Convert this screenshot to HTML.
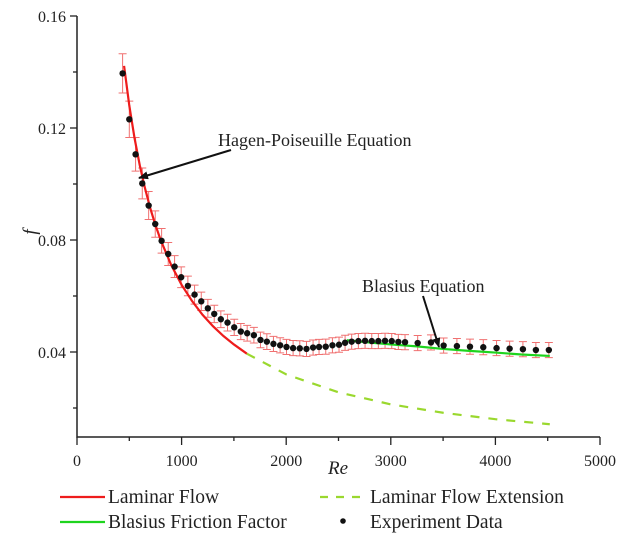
<!DOCTYPE html>
<html><head><meta charset="utf-8"><style>
body{margin:0;background:#fff}
svg text{font-family:"Liberation Serif",serif;fill:#222}
</style></head><body>
<svg id="c" width="624" height="544" xmlns="http://www.w3.org/2000/svg"></svg>
<script>
const reVals=[436,500,560,624,685,748,809,872,933,996,1060,1124,1188,1251,1312,1375,1439,1503,1566,1627,1691,1754,1815,1878,1942,2003,2066,2130,2194,2257,2314,2378,2442,2505,2563,2626,2690,2754,2818,2881,2945,3009,3072,3136,3257,3384,3505,3632,3757,3884,4011,4136,4263,4387,4511];
const fVals=[0.1395,0.1231,0.1106,0.1002,0.0923,0.0857,0.0797,0.0750,0.0705,0.0667,0.0636,0.0605,0.0581,0.0556,0.0536,0.0517,0.0505,0.0488,0.0473,0.0467,0.0460,0.0443,0.0437,0.0429,0.0424,0.0418,0.0414,0.0413,0.0411,0.0416,0.0418,0.0419,0.0424,0.0426,0.0433,0.0437,0.0439,0.0440,0.0439,0.0439,0.0440,0.0439,0.0436,0.0435,0.0432,0.0434,0.0423,0.0421,0.0419,0.0417,0.0414,0.0412,0.0410,0.0407,0.0407];
const errVals=[0.0070,0.0065,0.0060,0.0055,0.0050,0.0047,0.0044,0.0041,0.0039,0.0037,0.0035,0.0034,0.0033,0.0032,0.0031,0.0030,0.0030,0.0029,0.0029,0.0028,0.0028,0.0028,0.0028,0.0027,0.0027,0.0027,0.0027,0.0027,0.0027,0.0027,0.0027,0.0027,0.0027,0.0027,0.0027,0.0027,0.0027,0.0027,0.0027,0.0027,0.0027,0.0027,0.0027,0.0027,0.0027,0.0027,0.0027,0.0027,0.0027,0.0027,0.0027,0.0027,0.0027,0.0027,0.0027];
const lamRe=[450,500,550,600,650,700,750,800,900,1000,1100,1200,1300,1400,1500,1624];
const lamF=[0.1422,0.128,0.1164,0.1067,0.0985,0.0914,0.0853,0.08,0.0711,0.064,0.0582,0.0533,0.0492,0.0457,0.0427,0.0394];
const extRe=[1624,2000,2500,3000,3500,4000,4520];
const extF=[0.0394,0.032,0.0256,0.0213,0.0183,0.016,0.0142];
const blaRe=[2580,2800,3000,3250,3500,3750,4000,4250,4520];
const blaF=[0.0442,0.0434,0.0427,0.0420,0.0411,0.0404,0.0398,0.0391,0.0386];
const xTicks=[0,1000,2000,3000,4000,5000];
const yTicks=[0.04,0.08,0.12,0.16];

const X=v=>77+v*0.1046;
const Y=v=>352-(v-0.04)*2800;
const svg=document.getElementById('c');
const NS='http://www.w3.org/2000/svg';
function mk(tag,attrs,parent){const e=document.createElementNS(NS,tag);for(const k in attrs)e.setAttribute(k,attrs[k]);(parent||svg).appendChild(e);return e;}

let ax=mk('path',{d:`M77,16 V437 H600`,stroke:'#222','stroke-width':1.5,fill:'none'});


xTicks.forEach((t,i)=>{
  mk('line',{x1:X(t),x2:X(t),y1:437,y2:445,stroke:'#222','stroke-width':1.3});
  if(i<xTicks.length-1)mk('line',{x1:X(t+500),x2:X(t+500),y1:437,y2:441,stroke:'#222','stroke-width':1.3});
  const tx=mk('text',{x:X(t),y:466,'text-anchor':'middle','font-size':16});
  tx.textContent=t;
  
  
});
[0.02].concat(yTicks).forEach(t=>{
  const major=yTicks.includes(t);
  mk('line',{x1:major?70:73,x2:77,y1:Y(t),y2:Y(t),stroke:'#222','stroke-width':1.3});
});
[0.06,0.10,0.14].forEach(t=>mk('line',{x1:73,x2:77,y1:Y(t),y2:Y(t),stroke:'#222','stroke-width':1.3}));
yTicks.forEach(t=>{
  const tx=mk('text',{x:66,y:Y(t)+6,'text-anchor':'end','font-size':16});
  tx.textContent=t.toFixed(2);
  
  
});
let xt=mk('text',{x:338,y:474,'font-size':19,'font-style':'italic','text-anchor':'middle'});xt.textContent='Re';


let yt=mk('text',{x:0,y:0,'font-size':19,'font-style':'italic','text-anchor':'middle',transform:'translate(36,232) rotate(-90)'});yt.textContent='f';



function line(xs,ys,color,dash,name){
  const p=mk('polyline',{points:xs.map((x,i)=>X(x)+','+Y(ys[i])).join(' '),fill:'none',stroke:color,'stroke-width':2.2});
  if(dash)p.setAttribute('stroke-dasharray',dash);
  
  
}
reVals.forEach((r,i)=>{
  const x=X(r),y1=Y(fVals[i]+errVals[i]),y2=Y(fVals[i]-errVals[i]);
  const g=mk('path',{d:`M${x},${y1}V${y2}M${x-4},${y1}H${x+4}M${x-4},${y2}H${x+4}`,stroke:'#f07070','stroke-width':1,fill:'none'});
  
  
});
line(lamRe,lamF,'#ee1c1c',null,'laminar-flow-line');
line(extRe,extF,'#9ad82e','9,9','laminar-extension-line');
line(blaRe,blaF,'#1ed41e',null,'blasius-line');
reVals.forEach((r,i)=>{
  const c=mk('circle',{cx:X(r),cy:Y(fVals[i]),r:3.2,fill:'#111'});
  
  
});
mk('defs',{}).innerHTML='<marker id="ah" markerWidth="10" markerHeight="8" refX="9" refY="4" orient="auto" markerUnits="userSpaceOnUse"><path d="M0,0L10,4L0,8z" fill="#111"/></marker>';
let a1=mk('text',{x:218,y:146,'font-size':18});a1.textContent='Hagen-Poiseuille Equation';


mk('line',{x1:231,y1:150,x2:139,y2:178,stroke:'#111','stroke-width':2,'marker-end':'url(#ah)'});
let a2=mk('text',{x:362,y:292,'font-size':18});a2.textContent='Blasius Equation';


mk('line',{x1:423,y1:296,x2:439,y2:347,stroke:'#111','stroke-width':2,'marker-end':'url(#ah)'});
function leg(x,y,label,name,draw){
  const g=mk('g',{});
  
  
  draw(g);
  const t=mk('text',{x:x,y:y+6,'font-size':19.5},g);t.textContent=label;
}
leg(108,497,'Laminar Flow','legend-laminar-flow',g=>mk('line',{x1:60,x2:105,y1:497,y2:497,stroke:'#ee1c1c','stroke-width':2.2},g));
leg(370,497,'Laminar Flow Extension','legend-laminar-extension',g=>mk('line',{x1:320,x2:366,y1:497,y2:497,stroke:'#9ad82e','stroke-width':2.2,'stroke-dasharray':'8,8'},g));
leg(108,522,'Blasius Friction Factor','legend-blasius',g=>mk('line',{x1:60,x2:105,y1:522,y2:522,stroke:'#1ed41e','stroke-width':2.2},g));
leg(370,522,'Experiment Data','legend-experiment-data',g=>mk('circle',{cx:343,cy:521,r:2.8,fill:'#111'},g));
</script>
</body></html>
